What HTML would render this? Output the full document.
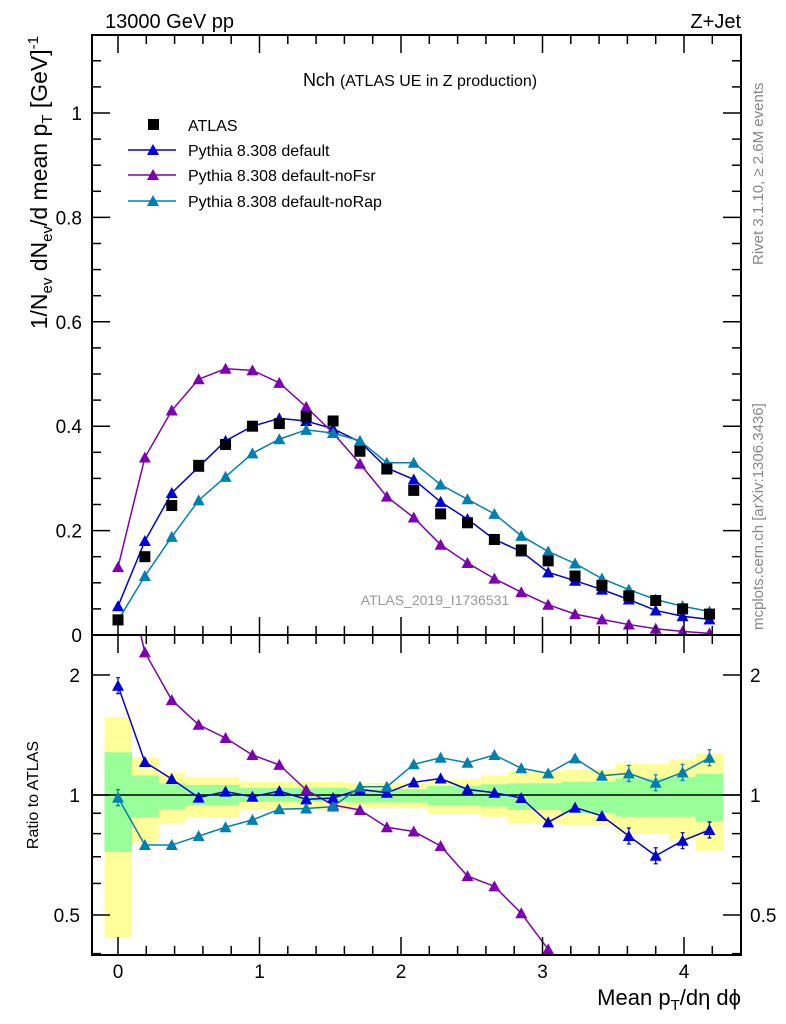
<!DOCTYPE html>
<html><head><meta charset="utf-8"><style>
body{margin:0;background:#fff;}
svg{display:block;font-family:"Liberation Sans",Arial,sans-serif;}
</style></head><body>
<svg id="c" width="786" height="1024" viewBox="0 0 786 1024"></svg>
<script>
const xs=[0,0.19,0.38,0.57,0.76,0.95,1.14,1.33,1.52,1.71,1.9,2.09,2.28,2.47,2.66,2.85,3.04,3.23,3.42,3.61,3.8,3.99,4.18];
const atlas=[0.029,0.15,0.248,0.325,0.365,0.40,0.405,0.418,0.41,0.352,0.318,0.277,0.232,0.215,0.183,0.163,0.142,0.113,0.095,0.075,0.066,0.05,0.04];
const pyDefault=[0.055,0.18,0.272,0.322,0.372,0.40,0.415,0.41,0.395,0.37,0.32,0.298,0.255,0.222,0.183,0.16,0.12,0.104,0.087,0.068,0.047,0.036,0.03];
const pyNoFsr=[0.13,0.34,0.43,0.49,0.51,0.507,0.483,0.437,0.387,0.328,0.265,0.225,0.173,0.138,0.108,0.082,0.058,0.04,0.03,0.02,0.012,0.007,0.003];
const pyNoRap=[0.028,0.113,0.188,0.258,0.303,0.348,0.375,0.393,0.387,0.372,0.33,0.33,0.288,0.26,0.232,0.19,0.16,0.137,0.108,0.087,0.068,0.055,0.045];
const rDefault=[1.88,1.21,1.097,0.985,1.02,0.99,1.023,0.975,0.983,1.033,1.013,1.076,1.10,1.033,1.013,0.983,0.854,0.93,0.886,0.789,0.704,0.768,0.817];
const rNoFsr=[4.4,2.28,1.73,1.50,1.39,1.26,1.19,1.03,0.944,0.917,0.83,0.81,0.745,0.626,0.59,0.505,0.41,0.3,0.3,0.3,0.3,0.3,0.3];
const rNoRap=[0.985,0.749,0.749,0.789,0.83,0.866,0.921,0.925,0.935,1.049,1.049,1.194,1.24,1.205,1.26,1.167,1.133,1.236,1.118,1.133,1.073,1.14,1.24];
const yelHi=[1.57,1.24,1.14,1.11,1.11,1.08,1.08,1.08,1.08,1.073,1.073,1.073,1.095,1.095,1.116,1.144,1.144,1.16,1.16,1.196,1.196,1.224,1.272];
const yelLo=[0.44,0.76,0.85,0.88,0.88,0.917,0.917,0.917,0.917,0.926,0.926,0.926,0.90,0.90,0.882,0.849,0.849,0.841,0.841,0.798,0.798,0.774,0.725];
const grnHi=[1.28,1.12,1.07,1.06,1.06,1.043,1.043,1.043,1.043,1.035,1.035,1.035,1.053,1.053,1.064,1.07,1.07,1.08,1.08,1.10,1.10,1.11,1.13];
const grnLo=[0.72,0.88,0.92,0.944,0.944,0.962,0.962,0.962,0.962,0.957,0.957,0.957,0.944,0.944,0.935,0.917,0.917,0.90,0.90,0.882,0.882,0.882,0.857];
const yTicks=["0","0.2","0.4","0.6","0.8","1"];
const xTicks=["0","1","2","3","4"];

const NS="http://www.w3.org/2000/svg";
const svg=document.getElementById('c');
function el(tag,attrs,parent,text){const e=document.createElementNS(NS,tag);for(const k in attrs)e.setAttribute(k,attrs[k]);if(text!==undefined)e.textContent=text;(parent||svg).appendChild(e);return e;}
const L=92,R=741,T=35,MB=635,RB=955;
const X=v=>118+141.5*v;
const Y=v=>635-522*v;
const YR=r=>795-120*Math.log2(r);

const defs=el('defs',{});
const cp1=el('clipPath',{id:'cm'},defs);el('rect',{x:L,y:T,width:R-L,height:MB-T},cp1);
const cp2=el('clipPath',{id:'cr'},defs);el('rect',{x:L,y:MB,width:R-L,height:RB-MB},cp2);

const gB=el('g',{'clip-path':'url(#cr)'});


xs.forEach((x,i)=>{
  const x0=X(x-0.095),w=X(x+0.095)-x0;
  const y=el('rect',{x:x0,y:YR(yelHi[i]),width:w+0.5,height:YR(yelLo[i])-YR(yelHi[i]),fill:'#ffff99'},gB);
  
  
});
xs.forEach((x,i)=>{
  const x0=X(x-0.095),w=X(x+0.095)-x0;
  const g=el('rect',{x:x0,y:YR(grnHi[i]),width:w+0.5,height:YR(grnLo[i])-YR(grnHi[i]),fill:'#99ff99'},gB);
  
  
});
const one=el('line',{x1:L,x2:R,y1:YR(1),y2:YR(1),stroke:'#000','stroke-width':1.5});



function tri(g,cx,cy,c){el('path',{d:`M${cx},${cy-6} L${cx+6},${cy+5} L${cx-6},${cy+5} Z`,fill:c},g);}
function series(vals,yf,color,clip,name,err){
  const g=el('g',{'clip-path':`url(#${clip})`});
  
  
  el('polyline',{points:xs.map((x,i)=>X(x)+','+yf(vals[i])).join(' '),fill:'none',stroke:color,'stroke-width':1.5},g);
  xs.forEach((x,i)=>{
    if(err&&(i==0||i>=19)){const cy=yf(vals[i]);el('path',{d:`M${X(x)},${cy-8}V${cy+8}M${X(x)-2},${cy-8}H${X(x)+2}M${X(x)-2},${cy+8}H${X(x)+2}`,stroke:color,'stroke-width':1.2},g);}
    tri(g,X(x),yf(vals[i]),color);});
}
const cDef='#0000dd',cFsr='#7f00b2',cRap='#0080b2';
series(pyDefault,Y,cDef,'cm','series-default');
series(pyNoFsr,Y,cFsr,'cm','series-nofsr');
series(pyNoRap,Y,cRap,'cm','series-norap');
const ga=el('g',{'clip-path':'url(#cm)'});


xs.forEach((x,i)=>el('rect',{x:X(x)-5.5,y:Y(atlas[i])-5.5,width:11,height:11,fill:'#000'},ga));
series(rNoFsr,YR,cFsr,'cr','ratio-nofsr',true);
series(rDefault,YR,cDef,'cr','ratio-default',true);
series(rNoRap,YR,cRap,'cr','ratio-norap',true);

for(const [t,b,n] of [[T,MB,'main-frame'],[MB,RB,'ratio-frame']]){
  const f=el('rect',{x:L,y:t,width:R-L,height:b-t,fill:'none',stroke:'#000','stroke-width':2});
  
  
}
const tk=el('g',{stroke:'#000','stroke-width':1.5});


for(let v=-0.2;v<=4.4;v+=0.2){const vv=Math.round(v*10)/10;const px=X(vv);if(px<L||px>R)continue;
  const major=Math.abs(vv-Math.round(vv))<1e-6;const len=major?18:9;
  for(const [t,b] of [[T,MB],[MB,RB]]){el('line',{x1:px,x2:px,y1:b,y2:b-len},tk);el('line',{x1:px,x2:px,y1:t,y2:t+len},tk);}
}
for(let k=0;k<=22;k++){const v=k*0.05;const py=Y(v);if(py<T)continue;const len=(k%4==0)?18:9;
  el('line',{x1:L,x2:L+len,y1:py,y2:py},tk);el('line',{x1:R,x2:R-len,y1:py,y2:py},tk);}
[0.4,0.5,0.6,0.7,0.8,0.9,1,2].forEach(v=>{const py=YR(v);const len=(v==0.5||v==1||v==2)?18:9;
  el('line',{x1:L,x2:L+len,y1:py,y2:py},tk);el('line',{x1:R,x2:R-len,y1:py,y2:py},tk);});

yTicks.forEach(s=>{const t=el('text',{x:82,y:Y(parseFloat(s))+7,'font-size':19,'text-anchor':'end'},svg,s);
  
  });
xTicks.forEach(s=>{const t=el('text',{x:X(parseFloat(s)),y:978,'font-size':19,'text-anchor':'middle'},svg,s);
  
  });
[["0.5",0.5],["1",1],["2",2]].forEach(([s,v])=>{
  const a=el('text',{x:80,y:YR(v)+7,'font-size':19,'text-anchor':'end'},svg,s);
  
  
  const b=el('text',{x:750,y:YR(v)+7,'font-size':19},svg,s);
  
  });

const lg=el('g',{});


el('rect',{x:148,y:119,width:11,height:11,fill:'#000'},lg);
el('text',{x:188,y:131,'font-size':16},lg,'ATLAS');
[[cDef,'Pythia 8.308 default',151],[cFsr,'Pythia 8.308 default-noFsr',176],[cRap,'Pythia 8.308 default-noRap',202]].forEach(([c,s,y])=>{
  el('line',{x1:128,x2:176,y1:y-1,y2:y-1,stroke:c,'stroke-width':1.5},lg);tri(lg,153,y-1,c);
  const t=el('text',{x:188,y:y+5,'font-size':16},lg,s);
  
  
});
</script>
<svg width="786" height="1024" style="position:absolute;left:0;top:0;font-family:'Liberation Sans',Arial,sans-serif">
<text x="105" y="28" font-size="20">13000 GeV pp</text>
<text x="741" y="28" font-size="20" text-anchor="end">Z+Jet</text>
<text x="420" y="86" font-size="18" text-anchor="middle">Nch <tspan font-size="16">(ATLAS UE in Z production)</tspan></text>
<text x="435" y="605" font-size="14" fill="#999" text-anchor="middle">ATLAS_2019_I1736531</text>
<text transform="translate(47,36) rotate(-90)" font-size="23" text-anchor="end">1/N<tspan font-size="15" dy="5">ev</tspan><tspan dy="-5"> dN</tspan><tspan font-size="15" dy="5">ev</tspan><tspan dy="-5">/d mean p</tspan><tspan font-size="15" dy="5">T</tspan><tspan dy="-5"> [GeV]</tspan><tspan font-size="15" dy="-9">-1</tspan></text>
<text transform="translate(38,795) rotate(-90)" font-size="16" text-anchor="middle">Ratio to ATLAS</text>
<text x="741" y="1005" font-size="22" text-anchor="end">Mean p<tspan font-size="15" dy="5">T</tspan><tspan dy="-5">/dη dϕ</tspan></text>
<text transform="translate(763,265) rotate(-90)" font-size="15" fill="#888">Rivet 3.1.10, ≥ 2.6M events</text>
<text transform="translate(763,630) rotate(-90)" font-size="15" fill="#888">mcplots.cern.ch [arXiv:1306.3436]</text>
</svg>
</body></html>
